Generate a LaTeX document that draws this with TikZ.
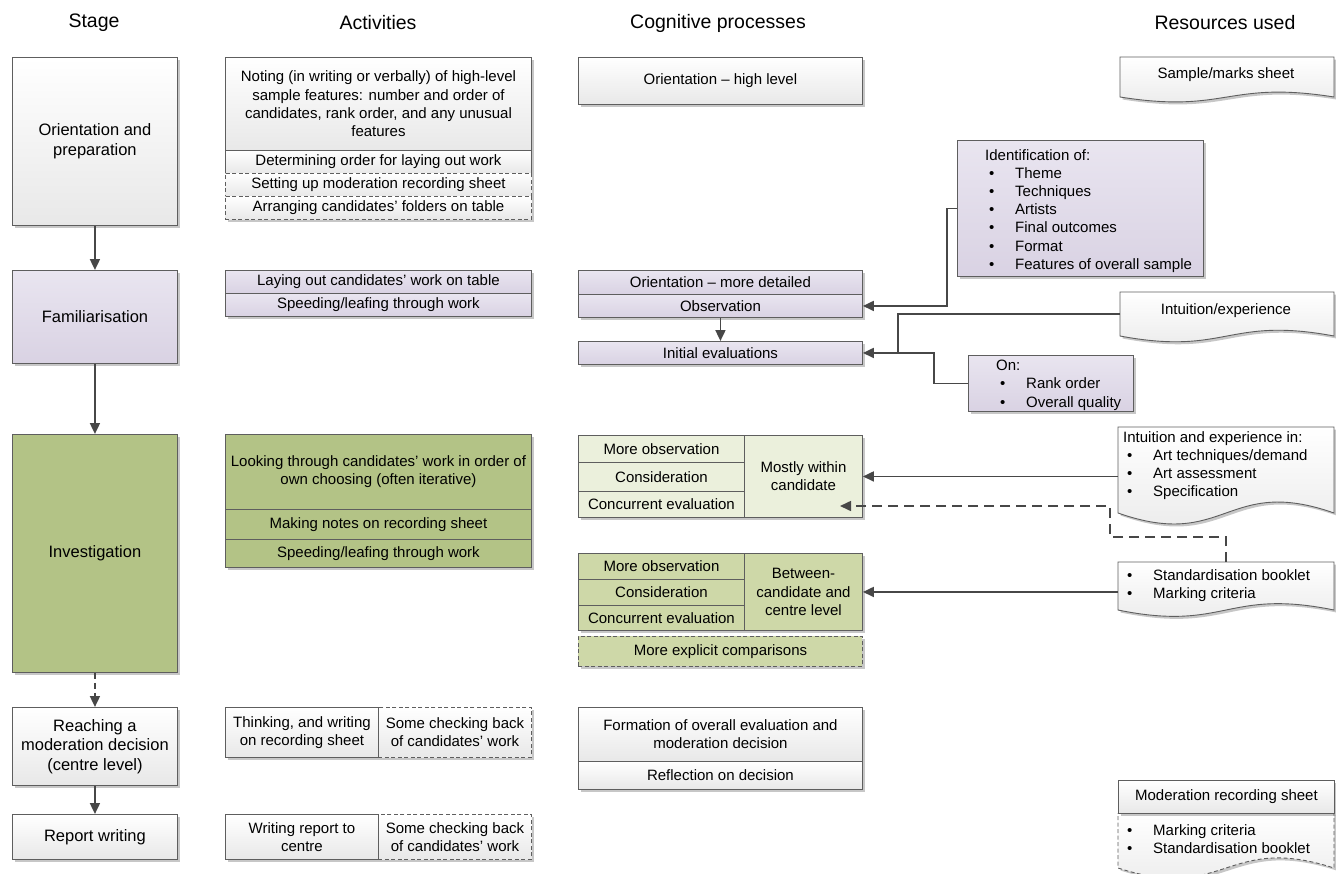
\documentclass[tikz,border=0pt]{standalone}
\usepackage{fontspec}
\setmainfont{Liberation Sans}
\usetikzlibrary{shadows,arrows.meta,calc}
\definecolor{lc}{HTML}{5E5E5E}
\definecolor{ac}{HTML}{474747}
\definecolor{pua}{HTML}{E9E5F0}
\definecolor{pub}{HTML}{D9D2E3}
\definecolor{dg}{HTML}{B3C386}
\definecolor{lg}{HTML}{EBF0DC}
\definecolor{mg}{HTML}{CED8A8}
\definecolor{wb}{HTML}{E8E8E8}
\newcommand\fs{\fontsize{15}{18.3}\selectfont}
\newcommand\fl{\fontsize{16.5}{19.6}\selectfont}
\newcommand\fh{\fontsize{19.5}{23}\selectfont}
\newcommand\mydoc[3]{\path[#3] (#1.north west) -- (#1.north east) -- (#1.south east) .. controls ($(#1.south)+(0,-#2)$) and ($(#1.south)+(0,#2)$) .. (#1.south west) -- cycle;}
\newcommand\bul{\makebox[30pt][l]{\hspace{4pt}•}}
\tikzset{
 shad/.style={drop shadow={shadow xshift=2.5pt,shadow yshift=-2.5pt,opacity=0.22,fill=black}},
 bx/.style={draw=lc,line width=0.9pt,inner sep=2pt,align=center,font=\fs,anchor=north west,shad},
 wh/.style={top color=white,bottom color=wb},
 pu/.style={top color=pua,bottom color=pub},
 dgf/.style={fill=dg},
 lgf/.style={fill=lg},
 mgf/.style={fill=mg},
 dsh/.style={dash pattern=on 4pt off 2.5pt},
 arr/.style={draw=ac,line width=1.8pt,-{Triangle[length=11pt,width=10pt]}},
 ln/.style={draw=ac,line width=1.8pt},
 hd/.style={font=\fh},
 body/.style={inner sep=0,outer sep=0,anchor=north west},
 docst/.style={draw=lc,line width=0.9pt,wh,shad},
 lst/.style={font=\fontsize{15}{18.2}\selectfont,inner sep=0,anchor=north west,align=left},
 tx/.style={font=\fs,inner sep=0},
}
\begin{document}
\begin{tikzpicture}[x=1pt,y=-1pt]
\fill[white] (0,0) rectangle (1336,873);
\useasboundingbox (0,0) rectangle (1336,873);

% headers
\node[hd] (h1) at (94,23) {Stage};
\node[hd] (h2) at (378,23) {Activities};
\node[hd] (h3) at (718,23) {Cognitive processes};
\node[hd] (h4) at (1225,23) {Resources used};

% stages
\node[bx,wh,font=\fl,minimum width=165pt,minimum height=168pt] (s1) at (12,57) {Orientation and\\preparation};
\node[bx,pu,font=\fl,minimum width=165pt,minimum height=93pt] (s2) at (12,270) {Familiarisation};
\node[bx,dgf,font=\fl,minimum width=165pt,minimum height=238pt] (s3) at (12,434) {Investigation};
\node[bx,wh,font=\fl,minimum width=165pt,minimum height=78pt] (s4) at (12,707) {Reaching a\\moderation decision\\(centre level)};
\node[bx,wh,font=\fl,minimum width=165pt,minimum height=45pt] (s5) at (12,814) {Report writing};

\draw[arr] (s1) -- (s2);
\draw[arr] (s2) -- (s3);
\draw[arr,dash pattern=on 6pt off 4pt] (s3) -- (s4);
\draw[arr] (s4) -- (s5);

% activities
\node[bx,wh,minimum width=306pt,minimum height=93pt] (a1) at (225,57) {Noting (in writing or verbally) of high-level\\sample features: number and order of\\candidates, rank order, and any unusual\\features};
\node[bx,wh,minimum width=306pt,minimum height=23pt] (a2) at (225,150) {Determining order for laying out work};
\node[bx,wh,dsh,minimum width=306pt,minimum height=23pt] (a3) at (225,173) {Setting up moderation recording sheet};
\node[bx,wh,dsh,minimum width=306pt,minimum height=23pt] (a4) at (225,196) {Arranging candidates’ folders on table};

\node[bx,pu,minimum width=306pt,minimum height=23pt] (a5) at (225,270) {Laying out candidates’ work on table};
\node[bx,pu,minimum width=306pt,minimum height=23pt] (a6) at (225,293) {Speeding/leafing through work};

\node[bx,dgf,minimum width=306pt,minimum height=75pt] (a7) at (225,434) {Looking through candidates’ work in order of\\own choosing (often iterative)};
\node[bx,dgf,minimum width=306pt,minimum height=30pt] (a8) at (225,509) {Making notes on recording sheet};
\node[bx,dgf,minimum width=306pt,minimum height=28pt] (a9) at (225,539) {Speeding/leafing through work};

\node[bx,wh,minimum width=153pt,minimum height=50pt] (a10) at (225,707) {Thinking, and writing\\on recording sheet};
\node[bx,wh,dsh,minimum width=153pt,minimum height=50pt] (a11) at (378,707) {Some checking back\\of candidates’ work};
\draw[draw=lc,line width=0.9pt] (a10.north east) -- (a10.south east);
\node[bx,wh,minimum width=153pt,minimum height=45pt] (a12) at (225,814) {Writing report to\\centre};
\node[bx,wh,dsh,minimum width=153pt,minimum height=45pt] (a13) at (378,814) {Some checking back\\of candidates’ work};
\draw[draw=lc,line width=0.9pt] (a12.north east) -- (a12.south east);

% cognitive processes
\node[bx,wh,minimum width=284pt,minimum height=47pt] (c1) at (578,57) {Orientation – high level};
\node[bx,pu,minimum width=284pt,minimum height=24pt] (c2) at (578,270) {Orientation – more detailed};
\node[bx,pu,minimum width=284pt,minimum height=23pt] (c3) at (578,294) {Observation};
\node[bx,pu,minimum width=284pt,minimum height=23pt] (c4) at (578,341) {Initial evaluations};
\draw[arr] (c3) -- (c4);

\node[bx,lgf,minimum width=166pt,minimum height=27pt] (c5) at (578,435) {More observation};
\node[bx,lgf,minimum width=166pt,minimum height=29pt] (c6) at (578,462) {Consideration};
\node[bx,lgf,minimum width=166pt,minimum height=26pt] (c7) at (578,491) {Concurrent evaluation};
\node[bx,lgf,minimum width=118pt,minimum height=82pt] (c8) at (744,435) {Mostly within\\candidate};

\node[bx,mgf,minimum width=166pt,minimum height=26pt] (c9) at (578,553) {More observation};
\node[bx,mgf,minimum width=166pt,minimum height=26pt] (c10) at (578,579) {Consideration};
\node[bx,mgf,minimum width=166pt,minimum height=25pt] (c11) at (578,605) {Concurrent evaluation};
\node[bx,mgf,minimum width=118pt,minimum height=77pt] (c12) at (744,553) {Between-\\candidate and\\centre level};
\node[bx,mgf,dsh,minimum width=284pt,minimum height=30pt] (c13) at (578,636) {More explicit comparisons};

\node[bx,wh,minimum width=284pt,minimum height=54pt] (c14) at (578,707) {Formation of overall evaluation and\\moderation decision};
\node[bx,wh,minimum width=284pt,minimum height=28pt] (c15) at (578,761) {Reflection on decision};

% identification / on boxes
\node[bx,pu,minimum width=246pt,minimum height=136pt] (id) at (957,140) {};
\node[lst] (idt) at (985,149) {Identification of:\\\bul Theme\\\bul Techniques\\\bul Artists\\\bul Final outcomes\\\bul Format\\\bul Features of overall sample};
\node[bx,pu,minimum width=165pt,minimum height=56pt] (on) at (968,355) {};
\node[lst] (ont) at (996,360) {On:\\\bul Rank order\\\bul Overall quality};

% resources
\node[body,minimum width=214pt,minimum height=40pt] (r1) at (1120,57) {};
\mydoc{r1}{17}{docst}
\node[tx] (r1t) at (1226,75) {Sample/marks sheet};

\node[body,minimum width=214pt,minimum height=44pt] (r2) at (1120,292) {};
\mydoc{r2}{20}{docst}
\node[tx] (r2t) at (1226,311) {Intuition/experience};

\node[body,minimum width=216pt,minimum height=86pt] (r3) at (1118,427) {};
\mydoc{r3}{38}{docst}
\node[lst] (r3t) at (1123,431) {Intuition and experience in:\\\bul Art techniques/demand\\\bul Art assessment\\\bul Specification};

\node[body,minimum width=216pt,minimum height=48pt] (r4) at (1118,562) {};
\mydoc{r4}{22}{docst}
\node[lst] (r4t) at (1123,569) {\bul Standardisation booklet\\\bul Marking criteria};

\node[body,minimum width=216pt,minimum height=55pt] (r5) at (1118,813) {};
\mydoc{r5}{35}{docst,dsh}
\node[bx,wh,minimum width=216pt,minimum height=33pt] (r5h) at (1118,780) {Moderation recording sheet};
\node[lst] (r5t) at (1123,824) {\bul Marking criteria\\\bul Standardisation booklet};

% connectors
\draw[arr] (id.west) -- ++(-10,0) |- (c3.east);
\draw[ln] (on.west) -| ($(c4.east)+(71,0)$) -- ($(c4.east)+(30,0)$);
\draw[arr] (r2.west) -- ++(-222,0) |- (c4.east);
\draw[arr] (r3.west |- c8.east) -- (c8.east);
\draw[arr] (r4.west |- c12.east) -- (c12.east);
\coordinate (dk) at (1110,537);
\coordinate (de) at (840,506);
\draw[arr,line width=1.6pt,dash pattern=on 10pt off 6pt] (r4.north) |- (dk) |- (de);
\end{tikzpicture}
\end{document}
